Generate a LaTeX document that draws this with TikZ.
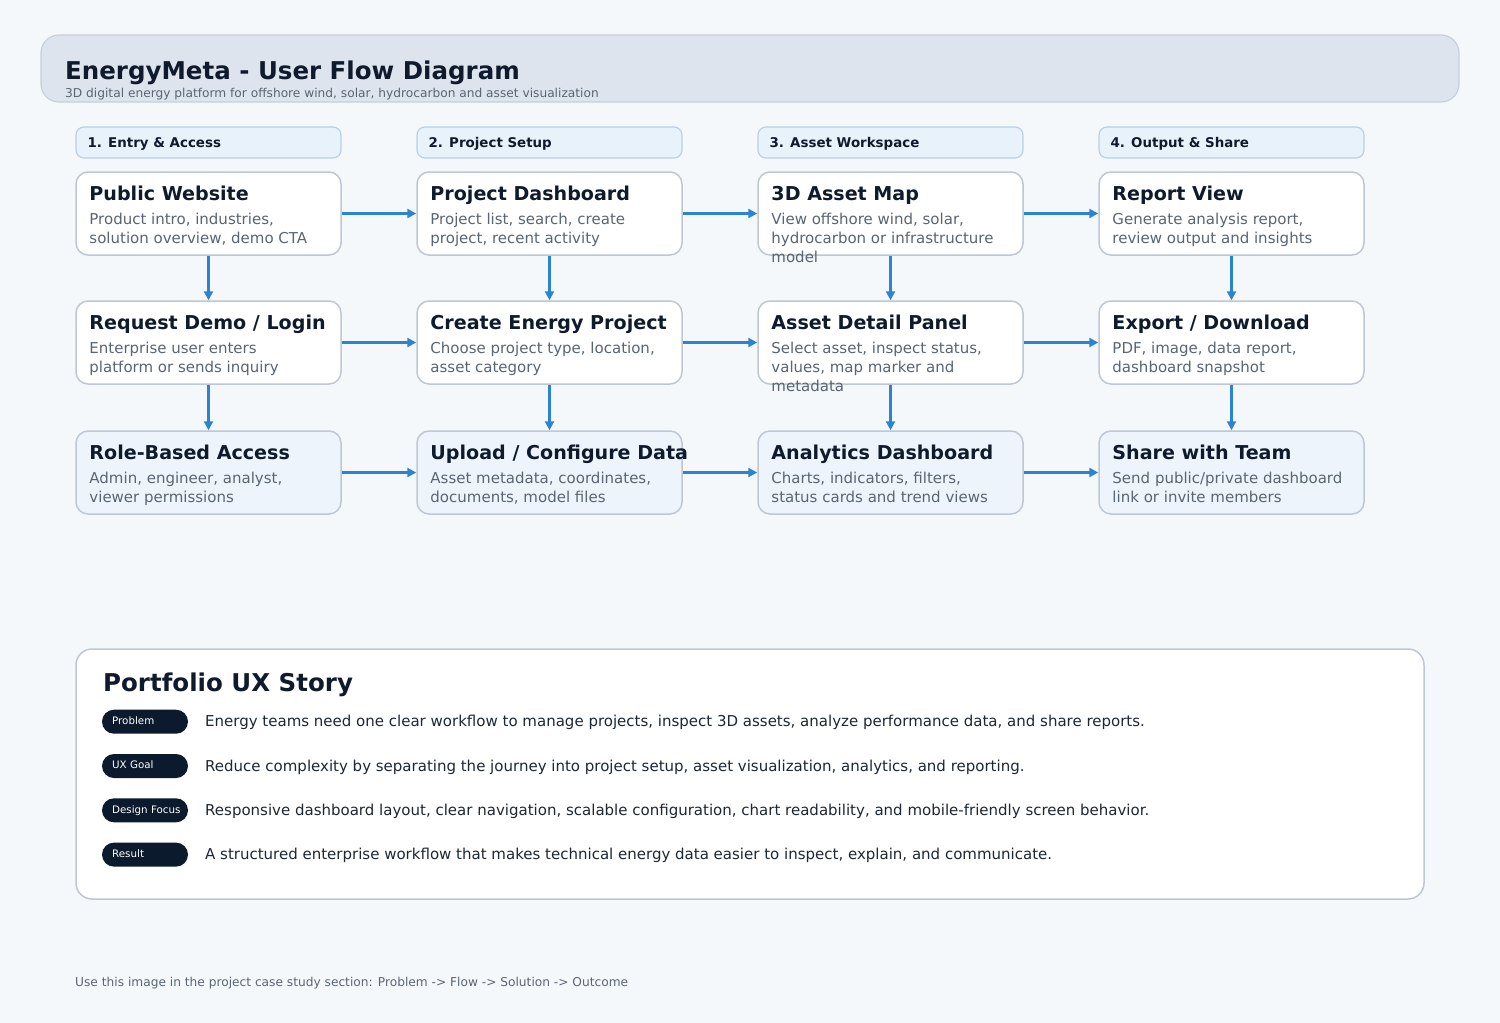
\documentclass[tikz,border=0pt]{standalone}
\usepackage{fontspec}
\setmainfont{DejaVu Sans}
\usetikzlibrary{arrows.meta,calc}
\definecolor{bgc}{HTML}{F5F8FB}
\definecolor{bannerfill}{HTML}{DDE4EE}
\definecolor{bannerline}{HTML}{C6D0DD}
\definecolor{phasefill}{HTML}{E8F2FB}
\definecolor{phaseline}{HTML}{B8D0E8}
\definecolor{boxline}{HTML}{BEC7D2}
\definecolor{rowthree}{HTML}{EEF4FB}
\definecolor{arrowc}{HTML}{2A84D2}
\definecolor{ink}{HTML}{0F1B2D}
\definecolor{descc}{HTML}{5A6573}
\definecolor{pillc}{HTML}{0C1A2D}
\definecolor{bodyc}{HTML}{1E2734}
\tikzset{
  x=1pt, y=-1pt,
  box/.style={draw=boxline, line width=1.5pt, rounded corners=12pt, minimum width=265pt, minimum height=83pt, inner sep=0pt},
  phase/.style={draw=phaseline, fill=phasefill, line width=1.2pt, rounded corners=8pt, minimum width=265pt, minimum height=31pt, inner sep=0pt},
  phasetext/.style={anchor=base west, inner sep=0pt, text=ink, font=\fontsize{13.4}{15}\selectfont\bfseries},
  btitle/.style={anchor=base west, inner sep=0pt, text=ink, font=\fontsize{19.1}{22}\selectfont\bfseries},
  bdesc/.style={anchor=base west, inner sep=0pt, text=descc, font=\fontsize{15}{17}\selectfont},
  flow/.style={draw=arrowc, line width=2.4pt, -{Triangle[length=9pt,width=9pt]}, shorten >=0pt},
  pill/.style={fill=pillc, rounded corners=12pt, minimum width=86pt, minimum height=24pt, inner sep=0pt},
  pilltext/.style={anchor=base west, inner sep=0pt, text=white, font=\fontsize{10.3}{12}\selectfont},
  storytext/.style={anchor=base west, inner sep=0pt, text=bodyc, font=\fontsize{15}{17}\selectfont},
}
\newcommand{\flowbox}[7]{%
  \node[box, fill=#4] (#1) at (#2,#3) {};
  \node[btitle] (#1t) at ($(#1.north west)+(14,29.5)$) {#5};
  \node[bdesc] (#1a) at ($(#1.north west)+(14,53)$) {#6};
  \node[bdesc] (#1b) at ($(#1.north west)+(14,72)$) {#7};
}
\begin{document}
\begin{tikzpicture}
\fill[bgc] (0,0) rectangle (1500,1023);
\useasboundingbox (0,0) rectangle (1500,1023);

% banner
\node[draw=bannerline, fill=bannerfill, line width=1.2pt, rounded corners=18pt, minimum width=1418pt, minimum height=67pt, inner sep=0pt] (banner) at (750,68.5) {};
\node[anchor=base west, inner sep=0pt, text=ink, font=\fontsize{24.5}{28}\selectfont\bfseries] (title) at (65,79) {EnergyMeta - User Flow Diagram};
\node[anchor=base west, inner sep=0pt, text=descc, font=\fontsize{12.2}{14}\selectfont] (subtitle) at (65,97) {3D digital energy platform for offshore wind, solar, hydrocarbon and asset visualization};

% phases
\node[phase] (ph1) at (208.5,142.5) {};
\node[phase] (ph2) at (549.5,142.5) {};
\node[phase] (ph3) at (890.5,142.5) {};
\node[phase] (ph4) at (1231.5,142.5) {};
\node[phasetext] (ph1t) at ($(ph1.west)+(12,4.5)$) {1. Entry \& Access};
\node[phasetext] (ph2t) at ($(ph2.west)+(12,4.5)$) {2. Project Setup};
\node[phasetext] (ph3t) at ($(ph3.west)+(12,4.5)$) {3. Asset Workspace};
\node[phasetext] (ph4t) at ($(ph4.west)+(12,4.5)$) {4. Output \& Share};

% row 1
\flowbox{pw}{208.5}{213.5}{white}{Public Website}{Product intro, industries,}{solution overview, demo CTA}
\flowbox{pd}{549.5}{213.5}{white}{Project Dashboard}{Project list, search, create}{project, recent activity}
\flowbox{am}{890.5}{213.5}{white}{3D Asset Map}{View offshore wind, solar,}{hydrocarbon or infrastructure}
\node[bdesc] (amc) at ($(am.north west)+(14,91)$) {model};
\flowbox{rv}{1231.5}{213.5}{white}{Report View}{Generate analysis report,}{review output and insights}
% row 2
\flowbox{rd}{208.5}{342.5}{white}{Request Demo / Login}{Enterprise user enters}{platform or sends inquiry}
\flowbox{ce}{549.5}{342.5}{white}{Create Energy Project}{Choose project type, location,}{asset category}
\flowbox{ad}{890.5}{342.5}{white}{Asset Detail Panel}{Select asset, inspect status,}{values, map marker and}
\node[bdesc] (adc) at ($(ad.north west)+(14,91)$) {metadata};
\flowbox{ex}{1231.5}{342.5}{white}{Export / Download}{PDF, image, data report,}{dashboard snapshot}
% row 3
\flowbox{ra}{208.5}{472.5}{rowthree}{Role-Based Access}{Admin, engineer, analyst,}{viewer permissions}
\flowbox{uc}{549.5}{472.5}{rowthree}{Upload / Configure Data}{Asset metadata, coordinates,}{documents, model files}
\flowbox{an}{890.5}{472.5}{rowthree}{Analytics Dashboard}{Charts, indicators, filters,}{status cards and trend views}
\flowbox{sh}{1231.5}{472.5}{rowthree}{Share with Team}{Send public/private dashboard}{link or invite members}

% horizontal arrows
\draw[flow] (pw.east) -- (pd.west);
\draw[flow] (pd.east) -- (am.west);
\draw[flow] (am.east) -- (rv.west);
\draw[flow] (rd.east) -- (ce.west);
\draw[flow] (ce.east) -- (ad.west);
\draw[flow] (ad.east) -- (ex.west);
\draw[flow] (ra.east) -- (uc.west);
\draw[flow] (uc.east) -- (an.west);
\draw[flow] (an.east) -- (sh.west);
% vertical arrows
\draw[flow] (pw.south) -- (rd.north);
\draw[flow] (rd.south) -- (ra.north);
\draw[flow] (pd.south) -- (ce.north);
\draw[flow] (ce.south) -- (uc.north);
\draw[flow] (am.south) -- (ad.north);
\draw[flow] (ad.south) -- (an.north);
\draw[flow] (rv.south) -- (ex.north);
\draw[flow] (ex.south) -- (sh.north);

% story
\node[draw=boxline, fill=white, line width=1.5pt, rounded corners=16pt, minimum width=1348pt, minimum height=250pt, inner sep=0pt] (story) at (750,774) {};
\node[anchor=base west, inner sep=0pt, text=ink, font=\fontsize{24.5}{28}\selectfont\bfseries] (storytitle) at (103,691) {Portfolio UX Story};

\node[pill] (p1) at (145,721.7) {};
\node[pill] (p2) at (145,766) {};
\node[pill] (p3) at (145,810.3) {};
\node[pill] (p4) at (145,854.6) {};
\node[pilltext] (p1t) at (112,724.5) {Problem};
\node[pilltext] (p2t) at (112,768.8) {UX Goal};
\node[pilltext] (p3t) at (112,813.1) {Design Focus};
\node[pilltext] (p4t) at (112,857.4) {Result};
\node[storytext] (s1) at (205,726.7) {Energy teams need one clear workflow to manage projects, inspect 3D assets, analyze performance data, and share reports.};
\node[storytext] (s2) at (205,771) {Reduce complexity by separating the journey into project setup, asset visualization, analytics, and reporting.};
\node[storytext] (s3) at (205,815.3) {Responsive dashboard layout, clear navigation, scalable configuration, chart readability, and mobile-friendly screen behavior.};
\node[storytext] (s4) at (205,859.6) {A structured enterprise workflow that makes technical energy data easier to inspect, explain, and communicate.};

% footer
\node[anchor=base west, inner sep=0pt, text=descc, font=\fontsize{12.2}{14}\selectfont] (footer) at (75,986) {Use this image in the project case study section: Problem -> Flow -> Solution -> Outcome};
\end{tikzpicture}
\end{document}
